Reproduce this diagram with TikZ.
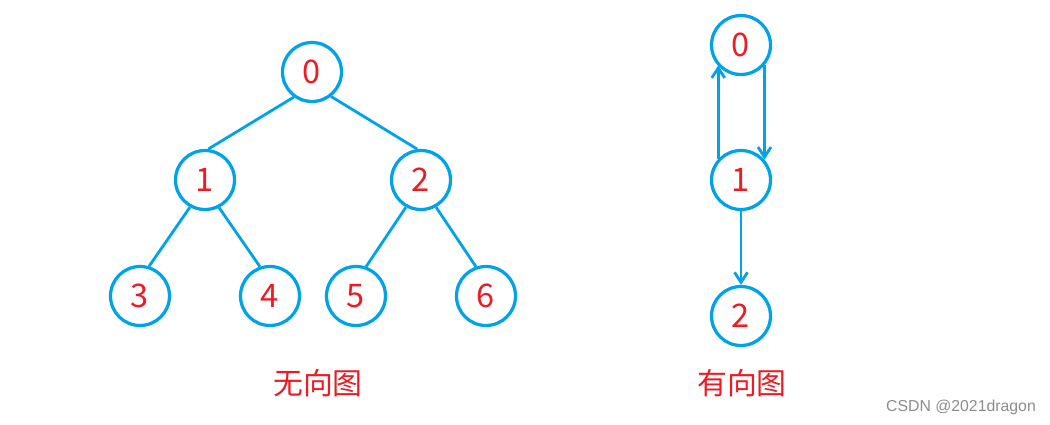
\documentclass[tikz,border=0pt]{standalone}
\usepackage{fontspec}
\setmainfont{Noto Sans CJK SC}
\newfontfamily\markfont{Liberation Sans}
\usetikzlibrary{arrows.meta}
\definecolor{edgeblue}{RGB}{0,162,232}
\definecolor{numred}{RGB}{237,28,36}
\tikzset{
  vertex/.style={circle,draw=edgeblue,line width=0.065cm,minimum size=1.18cm,inner sep=0pt,
    text=numred,font=\fontsize{18.5}{18.5}\selectfont},
  link/.style={draw=edgeblue,line width=0.056cm},
  arc/.style={link,-{Straight Barb[length=0.2cm,width=0.26cm,line width=0.056cm]}}
}
\begin{document}
\begin{tikzpicture}[x=0.02cm,y=-0.02cm]
            \useasboundingbox (0,0) rectangle (1050,425);
            % undirected tree
            \node[vertex] (u0) at (312,72) {0};
            \node[vertex] (u1) at (205,180) {1};
            \node[vertex] (u2) at (421,180) {2};
            \node[vertex] (u3) at (140,296) {3};
            \node[vertex] (u4) at (270,296) {4};
            \node[vertex] (u5) at (356,296) {5};
            \node[vertex] (u6) at (486,296) {6};
            \draw[link] (u0.234) -- (u1.84);
            \draw[link] (u0.-52) -- (u2.97);
            \draw[link] (u1.-119) -- (u3.73);
            \draw[link] (u1.-63) -- (u4.109);
            \draw[link] (u2.-119) -- (u5.71);
            \draw[link] (u2.-61) -- (u6.109);
            % directed graph
            \node[vertex] (d0) at (741,45) {0};
            \node[vertex] (d1) at (741,180) {1};
            \node[vertex] (d2) at (741,316) {2};
            \draw[arc] (d1.137) -- (d1.137 |- d0.221);
            \draw[arc] (d0.-41) -- (d0.-41 |- d1.41);
            \draw[arc] (d1.south) -- (d2.north);
            % captions
            \node[text=numred,font=\fontsize{17}{17}\selectfont] (cap1) at (318,383) {无向图};
            \node[text=numred,font=\fontsize{17}{17}\selectfont] (cap2) at (742,383) {有向图};
            \node[text=black!45,font=\markfont\fontsize{9}{9}\selectfont] (mark) at (961,407) {CSDN @2021dragon};
        \end{tikzpicture}
\end{document}
